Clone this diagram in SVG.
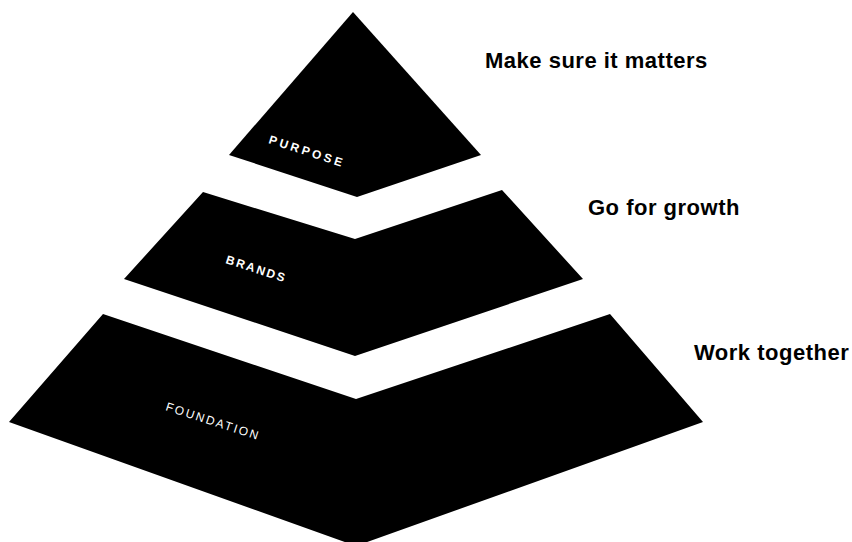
<svg xmlns="http://www.w3.org/2000/svg" width="852" height="542" viewBox="0 0 852 542">
<style>
.tier{fill:#000}
.lbl{fill:#fff;font-family:"Liberation Sans",Arial,sans-serif;font-size:12px;font-weight:bold;letter-spacing:2px}
.cap{fill:#000;font-family:"Liberation Sans",Arial,sans-serif;font-size:22px;font-weight:bold;letter-spacing:0.5px}
</style>
<rect width="852" height="542" fill="#fff"/>
<g id="purpose">
<polygon class="tier" points="353,12 481,155 357,197 229,155"/>
<text class="lbl" style="letter-spacing:3px" transform="translate(268,143) rotate(18)">PURPOSE</text>
</g>
<g id="brands">
<polygon class="tier" points="203,192 355,239 502,190 583,279 355,356 124,279"/>
<text class="lbl" transform="translate(225,263) rotate(18)">BRANDS</text>
</g>
<g id="foundation">
<polygon class="tier" points="103,314 356,399 610,314 703,422 356,546 9,422"/>
<text class="lbl" style="font-weight:normal;letter-spacing:2px" transform="translate(165,410) rotate(18)">FOUNDATION</text>
</g>
<g id="caption-purpose"><text class="cap" x="485" y="68">Make sure it matters</text></g>
<g id="caption-brands"><text class="cap" x="588" y="215">Go for growth</text></g>
<g id="caption-foundation"><text class="cap" x="694" y="360">Work together</text></g>
<g id="connectors"></g>
</svg>
